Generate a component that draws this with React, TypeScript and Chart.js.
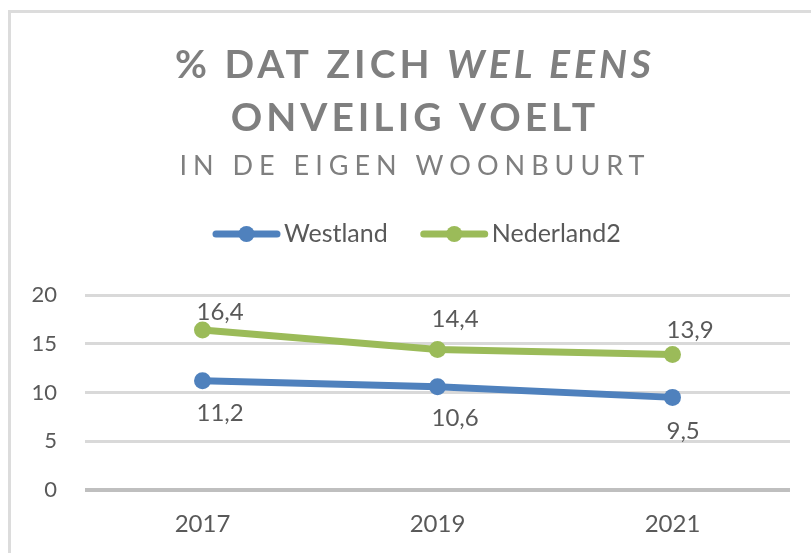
import { useEffect, useRef } from "react";
import { Chart, registerables } from "chart.js";

Chart.register(...registerables);

const categories = ["2017", "2019", "2021"];
const westland = [11.2, 10.6, 9.5];
const nederland2 = [16.4, 14.4, 13.9];
const seriesNames = ["Westland", "Nederland2"];
const yMin = 0;
const yMax = 20;
const yStep = 5;

const titleLine1a = "% DAT ZICH ";
const titleLine1b = "WEL EENS";
const titleLine2 = "ONVEILIG VOELT";
const subtitle = "IN DE EIGEN WOONBUURT";

const BLUE = "#4F81BD";
const GREEN = "#9BBB59";
const TEXT = "#595959";
const TITLE = "#7F7F7F";
const FONT = "Lato, 'Open Sans', sans-serif";

const fmt = (v: number) => v.toFixed(1).replace(".", ",");

const overlayPlugin = {
  id: "overlay",
  afterDatasetsDraw(chart: any) {
    const ctx = chart.ctx as CanvasRenderingContext2D;
    const offsets = [
      [32, 32, 34], // Westland: below
      [-18, -30, -24], // Nederland2: above
    ];
    ctx.save();
    ctx.font = `24px ${FONT}`;
    ctx.fillStyle = TEXT;
    ctx.textAlign = "left";
    ctx.textBaseline = "middle";
    chart.data.datasets.forEach((ds: any, di: number) => {
      const meta = chart.getDatasetMeta(di);
      meta.data.forEach((pt: any, i: number) => {
        ctx.fillText(fmt(ds.data[i]), pt.x - 6, pt.y + offsets[di][i]);
      });
    });
    ctx.restore();
  },
  afterDraw(chart: any) {
    const ctx = chart.ctx as CanvasRenderingContext2D;
    const cx = 415;
    ctx.save();
    ctx.fillStyle = TITLE;
    ctx.textBaseline = "alphabetic";
    ctx.textAlign = "left";
    // line 1 (mixed)
    (ctx as any).letterSpacing = "4px";
    ctx.font = `bold 39px ${FONT}`;
    const w1 = ctx.measureText(titleLine1a).width;
    ctx.font = `italic bold 39px ${FONT}`;
    const w2 = ctx.measureText(titleLine1b).width;
    const x = cx - (w1 + w2) / 2;
    ctx.font = `bold 39px ${FONT}`;
    ctx.fillText(titleLine1a, x, 78);
    ctx.font = `italic bold 39px ${FONT}`;
    ctx.fillText(titleLine1b, x + w1, 78);
    // line 2
    ctx.font = `bold 39px ${FONT}`;
    const w3 = ctx.measureText(titleLine2).width;
    ctx.fillText(titleLine2, cx - w3 / 2, 131);
    // subtitle
    (ctx as any).letterSpacing = "6px";
    ctx.font = `27px ${FONT}`;
    const w4 = ctx.measureText(subtitle).width;
    ctx.fillText(subtitle, cx - w4 / 2, 175);

    // legend
    (ctx as any).letterSpacing = "0px";
    ctx.font = `25px ${FONT}`;
    ctx.textBaseline = "middle";
    const colors = [BLUE, GREEN];
    let lx = 213;
    const ly = 234;
    seriesNames.forEach((name, i) => {
      ctx.strokeStyle = colors[i];
      ctx.lineWidth = 7;
      ctx.lineCap = "round";
      ctx.beginPath();
      ctx.moveTo(lx + 3, ly);
      ctx.lineTo(lx + 64, ly);
      ctx.stroke();
      ctx.fillStyle = colors[i];
      ctx.beginPath();
      ctx.arc(lx + 33.5, ly, 8, 0, Math.PI * 2);
      ctx.fill();
      ctx.fillStyle = TEXT;
      ctx.fillText(name, lx + 71, ly);
      lx = lx + 71 + ctx.measureText(name).width + 33;
    });
    ctx.restore();
  },
};

export default function App() {
  const ref = useRef<HTMLCanvasElement | null>(null);
  useEffect(() => {
    if (!ref.current) return;
    const chart = new Chart(ref.current, {
      type: "line",
      data: {
        labels: categories,
        datasets: [
          {
            label: seriesNames[0],
            data: westland,
            borderColor: BLUE,
            backgroundColor: BLUE,
            borderWidth: 7,
            pointRadius: 8.5,
            pointBorderWidth: 0,
            pointBackgroundColor: BLUE,
            tension: 0,
            clip: false as any,
          },
          {
            label: seriesNames[1],
            data: nederland2,
            borderColor: GREEN,
            backgroundColor: GREEN,
            borderWidth: 7,
            pointRadius: 8.5,
            pointBorderWidth: 0,
            pointBackgroundColor: GREEN,
            tension: 0,
            clip: false as any,
          },
        ],
      },
      options: {
        responsive: false,
        animation: false,
        devicePixelRatio: 1,
        layout: { padding: { left: 12, right: 21, top: 295, bottom: 0 } },
        plugins: {
          legend: { display: false },
          title: { display: false },
          tooltip: { enabled: false },
        },
        scales: {
          x: {
            type: "category",
            offset: true,
            grid: { display: false, drawTicks: false },
            border: { display: false },
            ticks: {
              color: TEXT,
              font: { family: FONT, size: 24 },
              padding: 20,
            },
            afterFit: (s: any) => {
              s.height = 63;
            },
          },
          y: {
            min: yMin,
            max: yMax,
            ticks: {
              stepSize: yStep,
              color: TEXT,
              font: { family: FONT, size: 22 },
              padding: 28,
            },
            grid: {
              drawTicks: false,
              color: (c: any) => (c.tick && c.tick.value === 0 ? "#BFBFBF" : "#D9D9D9"),
              lineWidth: (c: any) => (c.tick && c.tick.value === 0 ? 4 : 3),
            },
            border: { display: false },
            afterFit: (s: any) => {
              s.width = 73;
            },
          },
        },
      },
      plugins: [overlayPlugin],
    });
    return () => chart.destroy();
  }, []);

  return (
    <div
      style={{
        position: "absolute",
        left: 0,
        top: 0,
        width: 811,
        height: 553,
        overflow: "hidden",
        background: "#ffffff",
      }}
    >
      <div
        style={{
          position: "absolute",
          left: 8,
          top: 10,
          width: 1000,
          height: 1000,
          borderLeft: "3px solid #DCDCDC",
          borderTop: "3px solid #DCDCDC",
        }}
      />
      <canvas
        ref={ref}
        width={811}
        height={553}
        style={{ position: "absolute", left: 0, top: 0, width: 811, height: 553 }}
      />
    </div>
  );
}
